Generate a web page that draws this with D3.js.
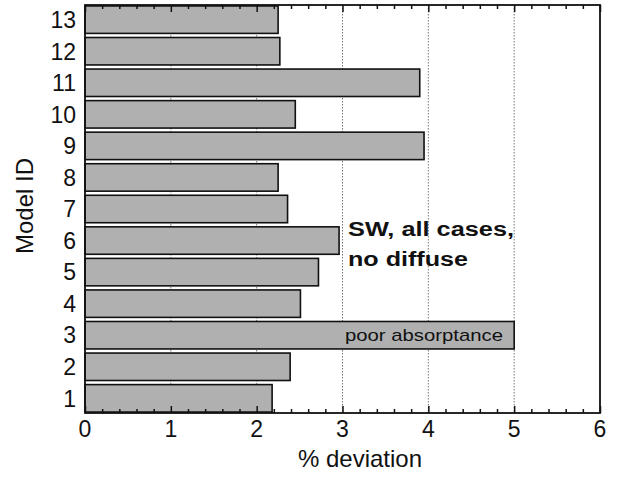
<!DOCTYPE html>
<html lang="en">
<meta charset="utf-8">
<head>
    <script src="https://d3js.org/d3.v7.min.js"></script>
</head>
<style>
    body { margin: 0; background: #fff; }
    svg text { font-family: Arial, "Liberation Sans", sans-serif; fill: #111; }
    .bar { fill: #b0b0b0; stroke: #111; stroke-width: 1.6; }
    .grid line { stroke: #777; stroke-width: 1; stroke-dasharray: 1.5 1.5; }
</style>
<body>
<script>
// model ids, bottom to top
var models = ["1", "2", "3", "4", "5", "6", "7", "8", "9", "10", "11", "12", "13"];
var deviation = [2.18, 2.39, 5.0, 2.51, 2.72, 2.96, 2.36, 2.25, 3.95, 2.45, 3.9, 2.27, 2.25];
var xTicks = [0, 1, 2, 3, 4, 5, 6];

var width = 621, height = 479;
var mLeft = 85, mRight = 600, mTop = 5, mBottom = 413;

var svg = d3.select("body").append("svg")
    .attr("width", width)
    .attr("height", height);

var x = d3.scaleLinear().domain([0, 6]).range([mLeft, mRight]);
var y = d3.scaleBand().domain(models).range([mBottom, mTop]).paddingInner(0.13).paddingOuter(0.03);

// dotted gridlines
svg.append("g").attr("class", "grid")
    .selectAll("line")
    .data(xTicks.slice(1, -1))
    .enter().append("line")
    .attr("x1", function(d) { return x(d); })
    .attr("x2", function(d) { return x(d); })
    .attr("y1", mTop)
    .attr("y2", mBottom);

// bars
svg.append("g").selectAll("rect")
    .data(models)
    .enter().append("rect")
    .attr("class", "bar")
    .attr("x", x(0))
    .attr("y", function(d) { return y(d); })
    .attr("width", function(d, i) { return x(deviation[i]) - x(0); })
    .attr("height", y.bandwidth());

// frame
svg.append("rect")
    .attr("x", mLeft).attr("y", mTop)
    .attr("width", mRight - mLeft).attr("height", mBottom - mTop)
    .attr("fill", "none").attr("stroke", "#111").attr("stroke-width", 1.8);

// inward ticks, bottom and top
var minor = d3.range(0, 30).map(function(i) { return i * 0.2; }).filter(function(d) { return Math.abs(d - Math.round(d)) > 0.01; });
var bottomAxis = d3.axisBottom(x).tickValues(xTicks).tickSize(-7).tickFormat("");
var topAxis = d3.axisTop(x).tickValues(xTicks).tickSize(-7).tickFormat("");
var bottomMinor = d3.axisBottom(x).tickValues(minor).tickSize(-4).tickFormat("");
var topMinor = d3.axisTop(x).tickValues(minor).tickSize(-4).tickFormat("");
[[bottomAxis, mBottom], [topAxis, mTop], [bottomMinor, mBottom], [topMinor, mTop]].forEach(function(a) {
    var g = svg.append("g").attr("transform", "translate(0," + a[1] + ")").call(a[0]);
    g.select(".domain").remove();
    g.selectAll("line").attr("stroke", "#111").attr("stroke-width", 1.5);
});

// x tick labels
svg.append("g").selectAll("text")
    .data(xTicks)
    .enter().append("text")
    .attr("x", function(d) { return x(d); })
    .attr("y", 437)
    .attr("text-anchor", "middle")
    .style("font-size", "23px")
    .text(function(d) { return d; });

// y tick labels
svg.append("g").selectAll("text")
    .data(models)
    .enter().append("text")
    .attr("x", 76)
    .attr("y", function(d) { return y(d) + y.bandwidth() / 2; })
    .attr("dy", "0.36em")
    .attr("text-anchor", "end")
    .style("font-size", "23px")
    .text(function(d) { return d; });

// axis titles
svg.append("text")
    .attr("x", 360).attr("y", 467)
    .attr("text-anchor", "middle")
    .style("font-size", "24px")
    .text("% deviation");
svg.append("text")
    .attr("transform", "translate(33,206) rotate(-90)")
    .attr("text-anchor", "middle")
    .style("font-size", "24px")
    .text("Model ID");

// annotations
svg.append("text")
    .attr("x", 348).attr("y", 236)
    .attr("textLength", 166).attr("lengthAdjust", "spacingAndGlyphs")
    .style("font-size", "20px").style("font-weight", "bold")
    .text("SW, all cases,");
svg.append("text")
    .attr("x", 348).attr("y", 266)
    .attr("textLength", 120).attr("lengthAdjust", "spacingAndGlyphs")
    .style("font-size", "20px").style("font-weight", "bold")
    .text("no diffuse");
svg.append("text")
    .attr("x", 345).attr("y", y("3") + y.bandwidth() / 2)
    .attr("dy", "0.36em")
    .attr("textLength", 158).attr("lengthAdjust", "spacingAndGlyphs")
    .style("font-size", "17px")
    .text("poor absorptance");
</script>
</body>
</html>
